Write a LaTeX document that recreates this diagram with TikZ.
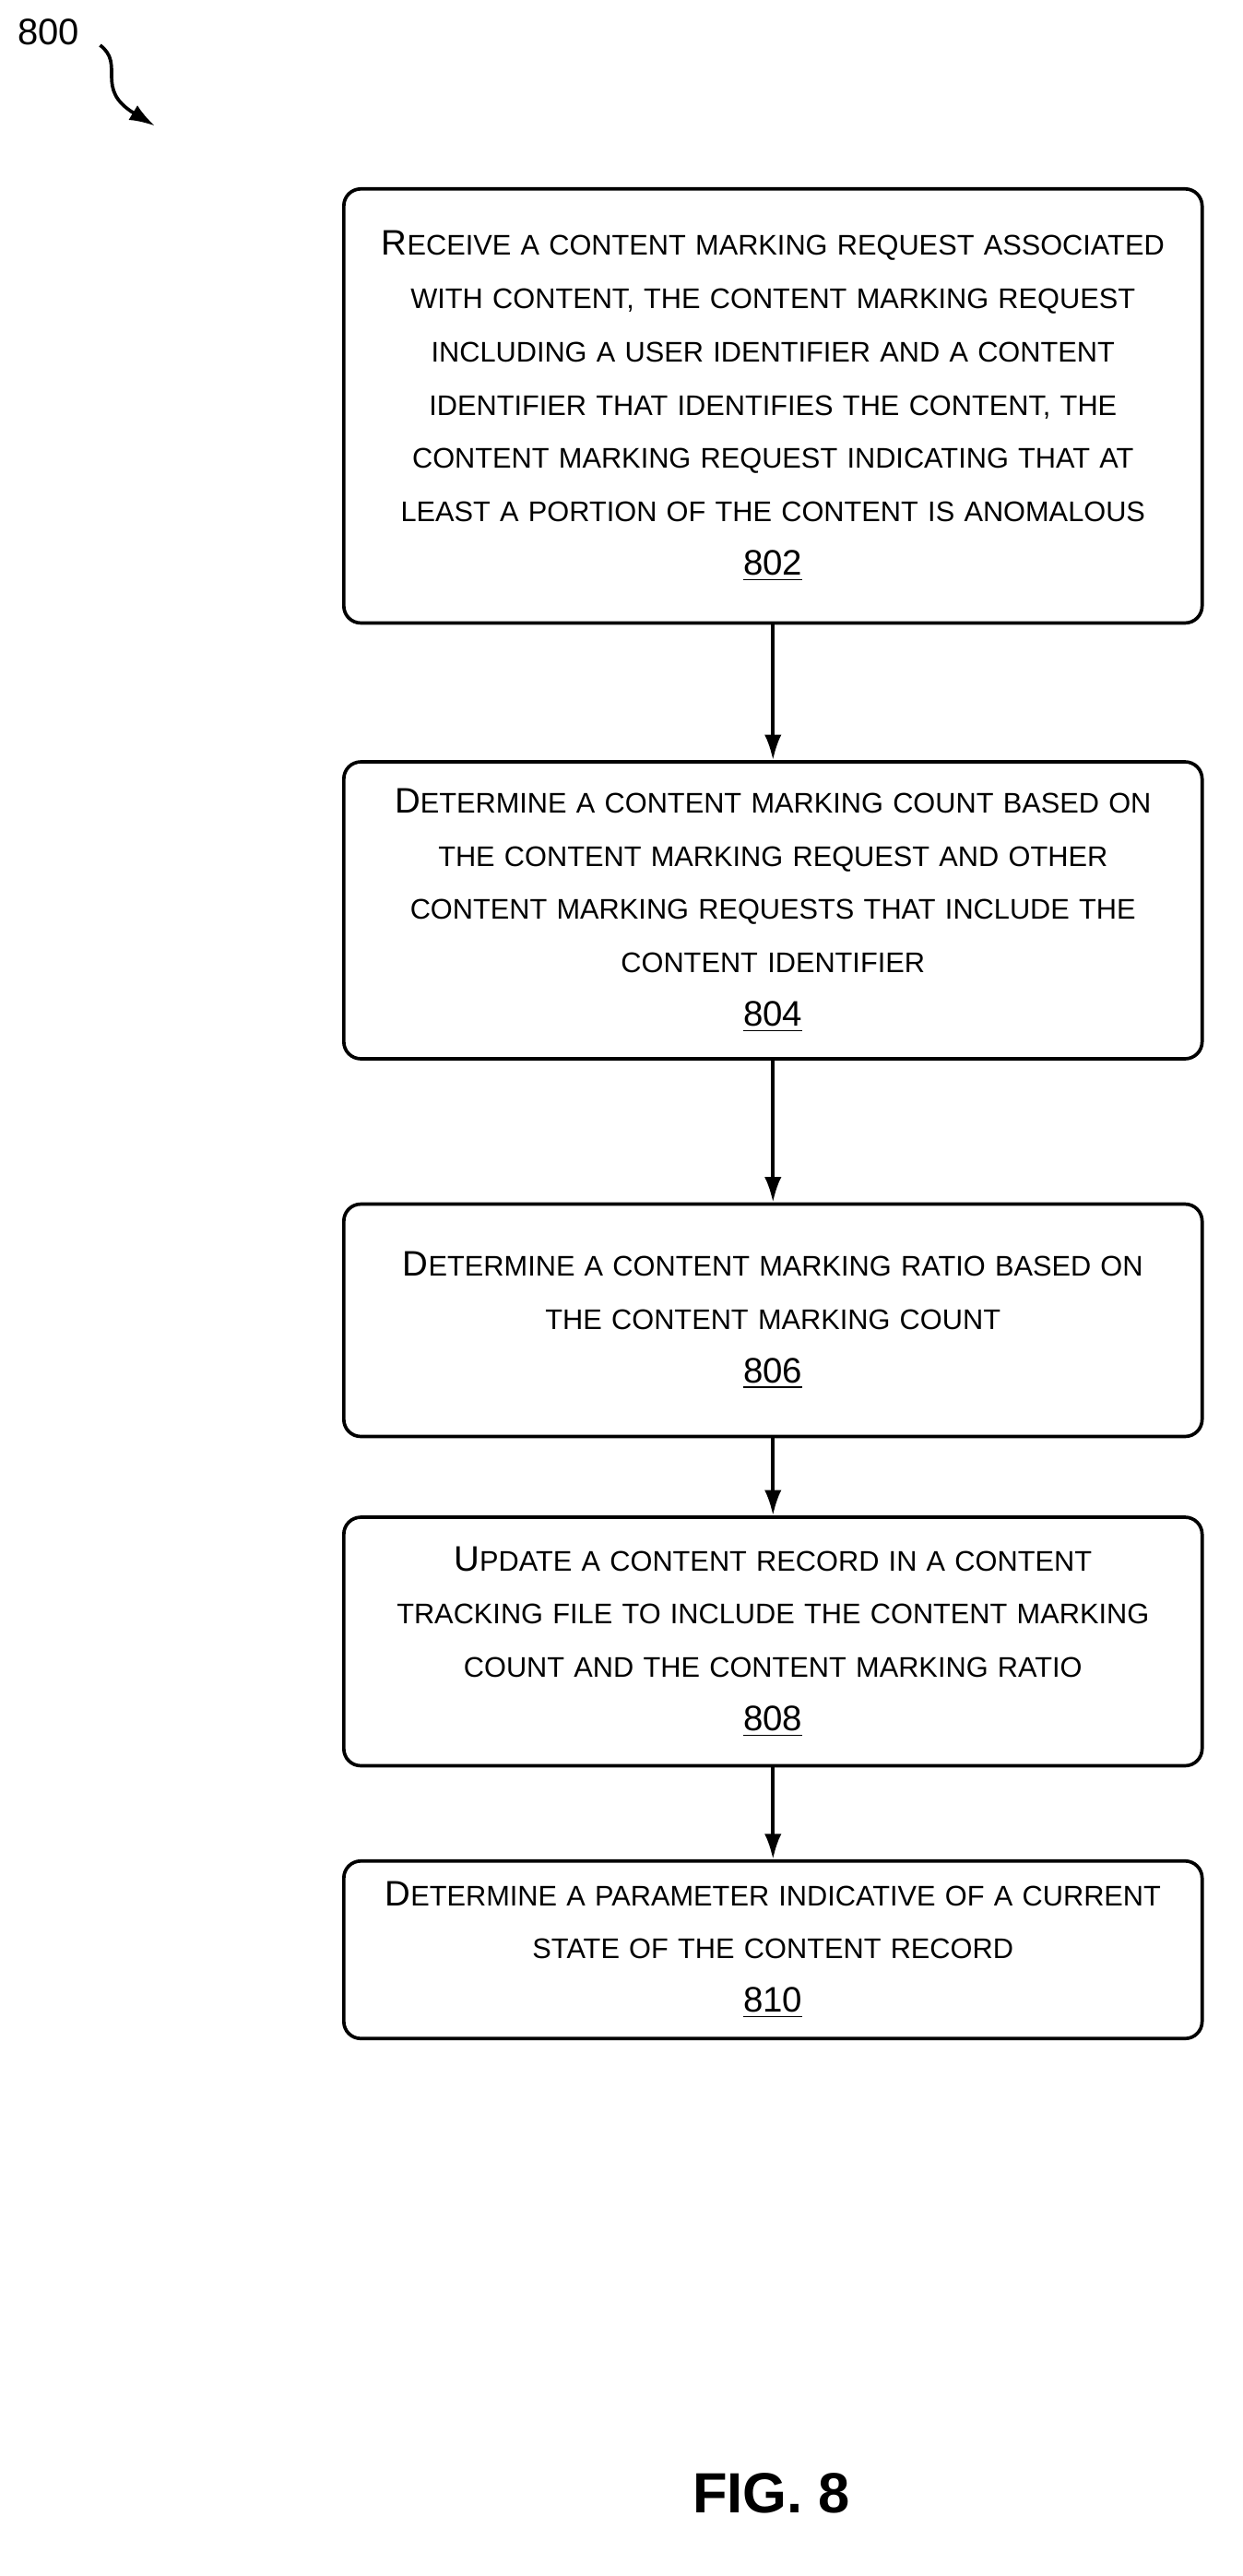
\documentclass[tikz,border=0pt]{standalone}
\usepackage{fontspec}
\setmainfont{Liberation Sans}
\usetikzlibrary{positioning,arrows.meta}
\newcommand{\Sc}[2]{{\fontsize{12.5}{18.8}\selectfont #1}{\fontsize{10}{18.8}\selectfont\MakeUppercase{#2}}}
\newcommand{\Lc}[1]{{\fontsize{10}{18.8}\selectfont\MakeUppercase{#1}}}
\newcommand{\Num}[1]{{\fontsize{12.5}{18.8}\selectfont\underline{#1}}}
\tikzset{
  stepbox/.style={draw, line width=1.2pt, rounded corners=6pt, minimum width=10.64cm,
    text width=10.4cm, align=center, font=\fontsize{10}{18.8}\selectfont, inner sep=0pt},
  flow/.style={-{Latex[length=9pt,width=6pt]}, line width=1.2pt}
}
\begin{document}
\begin{tikzpicture}[x=0.02cm,y=-0.02cm]
\useasboundingbox (0,0) rectangle (770,1596);
\node[font=\fontsize{13}{16}\selectfont] (lbl) at (30,20) {800};
\coordinate (tip) at (96,78);
\draw[-{Latex[length=9pt,width=6pt]}, line width=1.2pt] (62,28) .. controls (78,40) and (58,55) .. (tip);
\node[stepbox, minimum height=5.38cm] (s802) at (479,251.5)
  {\Sc{R}{eceive a content marking request associated}\\
   \Lc{with content, the content marking request}\\
   \Lc{including a user identifier and a content}\\
   \Lc{identifier that identifies the content, the}\\
   \Lc{content marking request indicating that at}\\
   \Lc{least a portion of the content is anomalous}\\\Num{802}};
\node[stepbox, minimum height=3.68cm] (s804) at (479,564)
  {\Sc{D}{etermine a content marking count based on}\\
   \Lc{the content marking request and other}\\
   \Lc{content marking requests that include the}\\
   \Lc{content identifier}\\\Num{804}};
\node[stepbox, minimum height=2.88cm] (s806) at (479,818)
  {\Sc{D}{etermine a content marking ratio based on}\\
   \Lc{the content marking count}\\\Num{806}};
\node[stepbox, minimum height=3.08cm] (s808) at (479,1017)
  {\Sc{U}{pdate a content record in a content}\\
   \Lc{tracking file to include the content marking}\\
   \Lc{count and the content marking ratio}\\\Num{808}};
\node[stepbox, minimum height=2.2cm] (s810) at (479,1208)
  {\Sc{D}{etermine a parameter indicative of a current}\\
   \Lc{state of the content record}\\\Num{810}};
\draw[flow] (s802) -- (s804);
\draw[flow] (s804) -- (s806);
\draw[flow] (s806) -- (s808);
\draw[flow] (s808) -- (s810);
\node[font=\fontsize{20}{24}\selectfont\bfseries] (fig) at (478,1545) {FIG. 8};
\end{tikzpicture}
\end{document}
